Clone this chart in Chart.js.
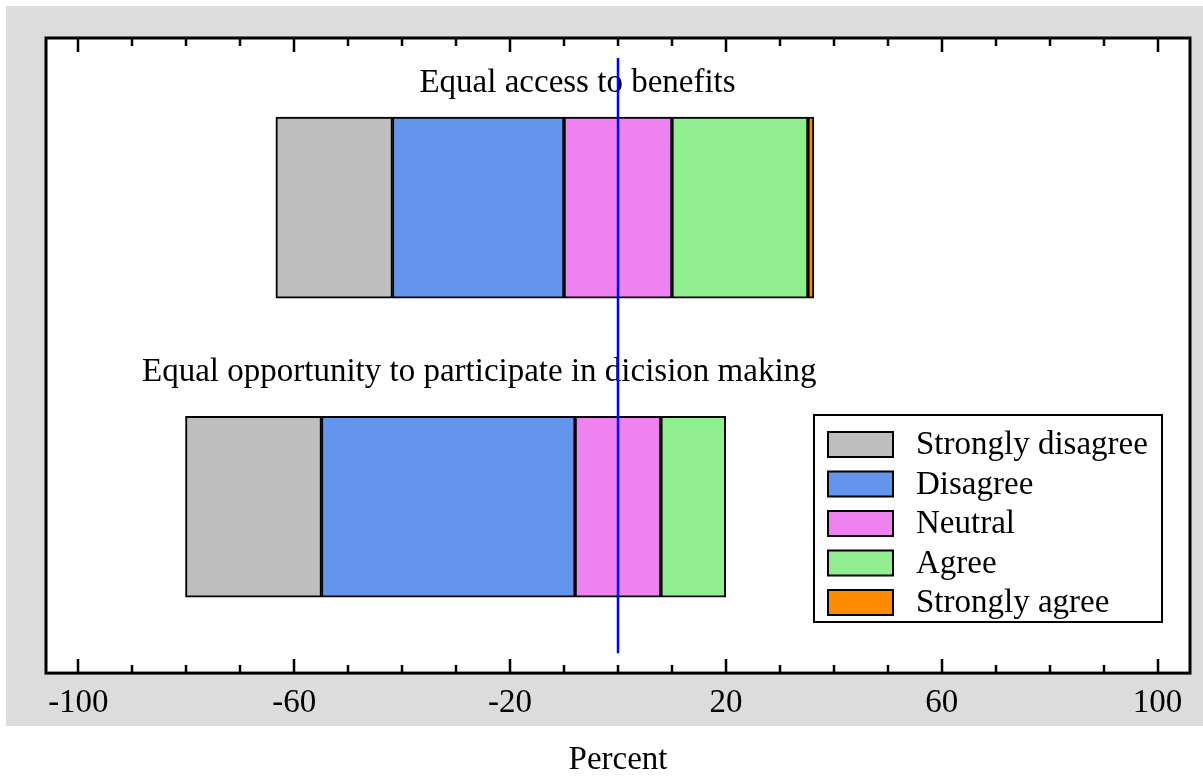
<!DOCTYPE html>
<html>
<head>
  <title>Equal access and participation</title>
  <script src="https://cdn.jsdelivr.net/npm/chart.js"></script>
  <style>
    body { margin: 0; background: #ffffff; }
  </style>
</head>
<body>
  <canvas id="likertChart" width="1203" height="778"></canvas>

  <script>
    // values (percent of respondents)
    const categories = ['Equal access to benefits', 'Equal opportunity to participate in dicision making'];
    const responses = ['Strongly disagree', 'Disagree', 'Neutral', 'Agree', 'Strongly agree'];
    const stronglyDisagree = [21.6, 25.2];
    const disagree = [31.8, 47.0];
    const neutral = [20.0, 15.9];
    const agree = [25.2, 12.0];
    const stronglyAgree = [1.1, 0.0];
    const colors = ['#bebebe', '#6495ed', '#ee82ee', '#90ee90', '#ff8c00'];
    const tickValues = [-100, -60, -20, 20, 60, 100];
    const minorStep = 10;

    const series = [stronglyDisagree, disagree, neutral, agree, stronglyAgree];
    const FONT = '"Liberation Serif", "Times New Roman", serif';

    // diverging stack: neutral is split around zero
    const barSets = responses.map((name, k) => ({
      type: 'bar',
      label: name,
      data: categories.map((c, i) => {
        let start = -(stronglyDisagree[i] + disagree[i] + neutral[i] / 2);
        for (let j = 0; j < k; j++) start += series[j][i];
        return { x: [start, start + series[k][i]], y: i + 1 };
      }),
      backgroundColor: colors[k],
      borderColor: '#000000',
      borderWidth: 2,
      borderSkipped: false,
      grouped: false,
      barThickness: 181,
      order: 1
    }));

    const zeroLine = {
      type: 'line',
      label: 'zero',
      data: [{ x: 0, y: 0.5 }, { x: 0, y: 2.49 }],
      borderColor: '#0000ff',
      borderWidth: 2.5,
      pointRadius: 0,
      order: 0
    };

    const decor = {
      id: 'decor',
      beforeDraw(chart) {
        const { ctx, chartArea: a, width, height } = chart;
        ctx.save();
        ctx.fillStyle = '#ffffff';
        ctx.fillRect(0, 0, width, height);
        ctx.fillStyle = '#dcdcdc';
        ctx.fillRect(6, 6, width - 6, 720);
        ctx.fillStyle = '#ffffff';
        ctx.fillRect(a.left, a.top, a.width, a.height);
        ctx.restore();
      },
      beforeDatasetsDraw(chart) {
        // category titles above each bar
        const { ctx, scales } = chart;
        const titleX = [-7.5, -25.7];
        const titleY = [0.613, 1.58];
        ctx.save();
        ctx.fillStyle = '#000000';
        ctx.font = '33px ' + FONT;
        ctx.textAlign = 'center';
        ctx.textBaseline = 'alphabetic';
        categories.forEach((c, i) => {
          ctx.fillText(c, scales.x.getPixelForValue(titleX[i]), scales.y.getPixelForValue(titleY[i]));
        });
        ctx.restore();
      },
      afterDatasetsDraw(chart) {
        const { ctx, chartArea: a, scales } = chart;
        ctx.save();
        // frame
        ctx.strokeStyle = '#000000';
        ctx.lineWidth = 3;
        ctx.strokeRect(a.left, a.top, a.width, a.height);
        // inward ticks top and bottom
        ctx.lineWidth = 2.5;
        for (let v = tickValues[0]; v <= tickValues[tickValues.length - 1]; v += minorStep) {
          const px = Math.round(scales.x.getPixelForValue(v));
          const len = tickValues.includes(v) ? 14 : 8;
          ctx.beginPath();
          ctx.moveTo(px, a.top);
          ctx.lineTo(px, a.top + len);
          ctx.moveTo(px, a.bottom);
          ctx.lineTo(px, a.bottom - len);
          ctx.stroke();
        }
        // legend
        const lx = a.right - 376, ly = 415, lw = 348, lh = 207;
        ctx.fillStyle = '#ffffff';
        ctx.fillRect(lx, ly, lw, lh);
        ctx.lineWidth = 2;
        ctx.strokeRect(lx, ly, lw, lh);
        ctx.font = '33px ' + FONT;
        ctx.textAlign = 'left';
        ctx.textBaseline = 'alphabetic';
        barSets.forEach((ds, k) => {
          const sy = ly + 17 + k * 39.5;
          ctx.fillStyle = ds.backgroundColor;
          ctx.fillRect(lx + 14, sy, 65, 25);
          ctx.strokeRect(lx + 14, sy, 65, 25);
          ctx.fillStyle = '#000000';
          ctx.fillText(ds.label, lx + 102, sy + 22);
        });
        ctx.restore();
      }
    };

    const ctx = document.getElementById('likertChart').getContext('2d');
    new Chart(ctx, {
      data: { datasets: [...barSets, zeroLine] },
      options: {
        indexAxis: 'y',
        responsive: false,
        animation: false,
        layout: { padding: { left: 46, right: 13, top: 38, bottom: 0 } },
        plugins: {
          legend: { display: false },
          tooltip: { enabled: false }
        },
        scales: {
          x: {
            type: 'linear',
            min: -106,
            max: 106,
            afterBuildTicks: s => { s.ticks = tickValues.map(v => ({ value: v })); },
            grid: { display: false, drawTicks: false },
            border: { display: false },
            ticks: {
              color: '#000000',
              padding: 10,
              font: { family: FONT, size: 33 }
            },
            title: {
              display: true,
              text: 'Percent',
              color: '#000000',
              font: { family: FONT, size: 33, lineHeight: 1.1 },
              padding: { top: 9, bottom: 0 }
            }
          },
          y: {
            type: 'linear',
            min: 0.433,
            max: 2.556,
            offset: false,
            reverse: true,
            display: false
          }
        }
      },
      plugins: [decor]
    });
  </script>
</body>
</html>
